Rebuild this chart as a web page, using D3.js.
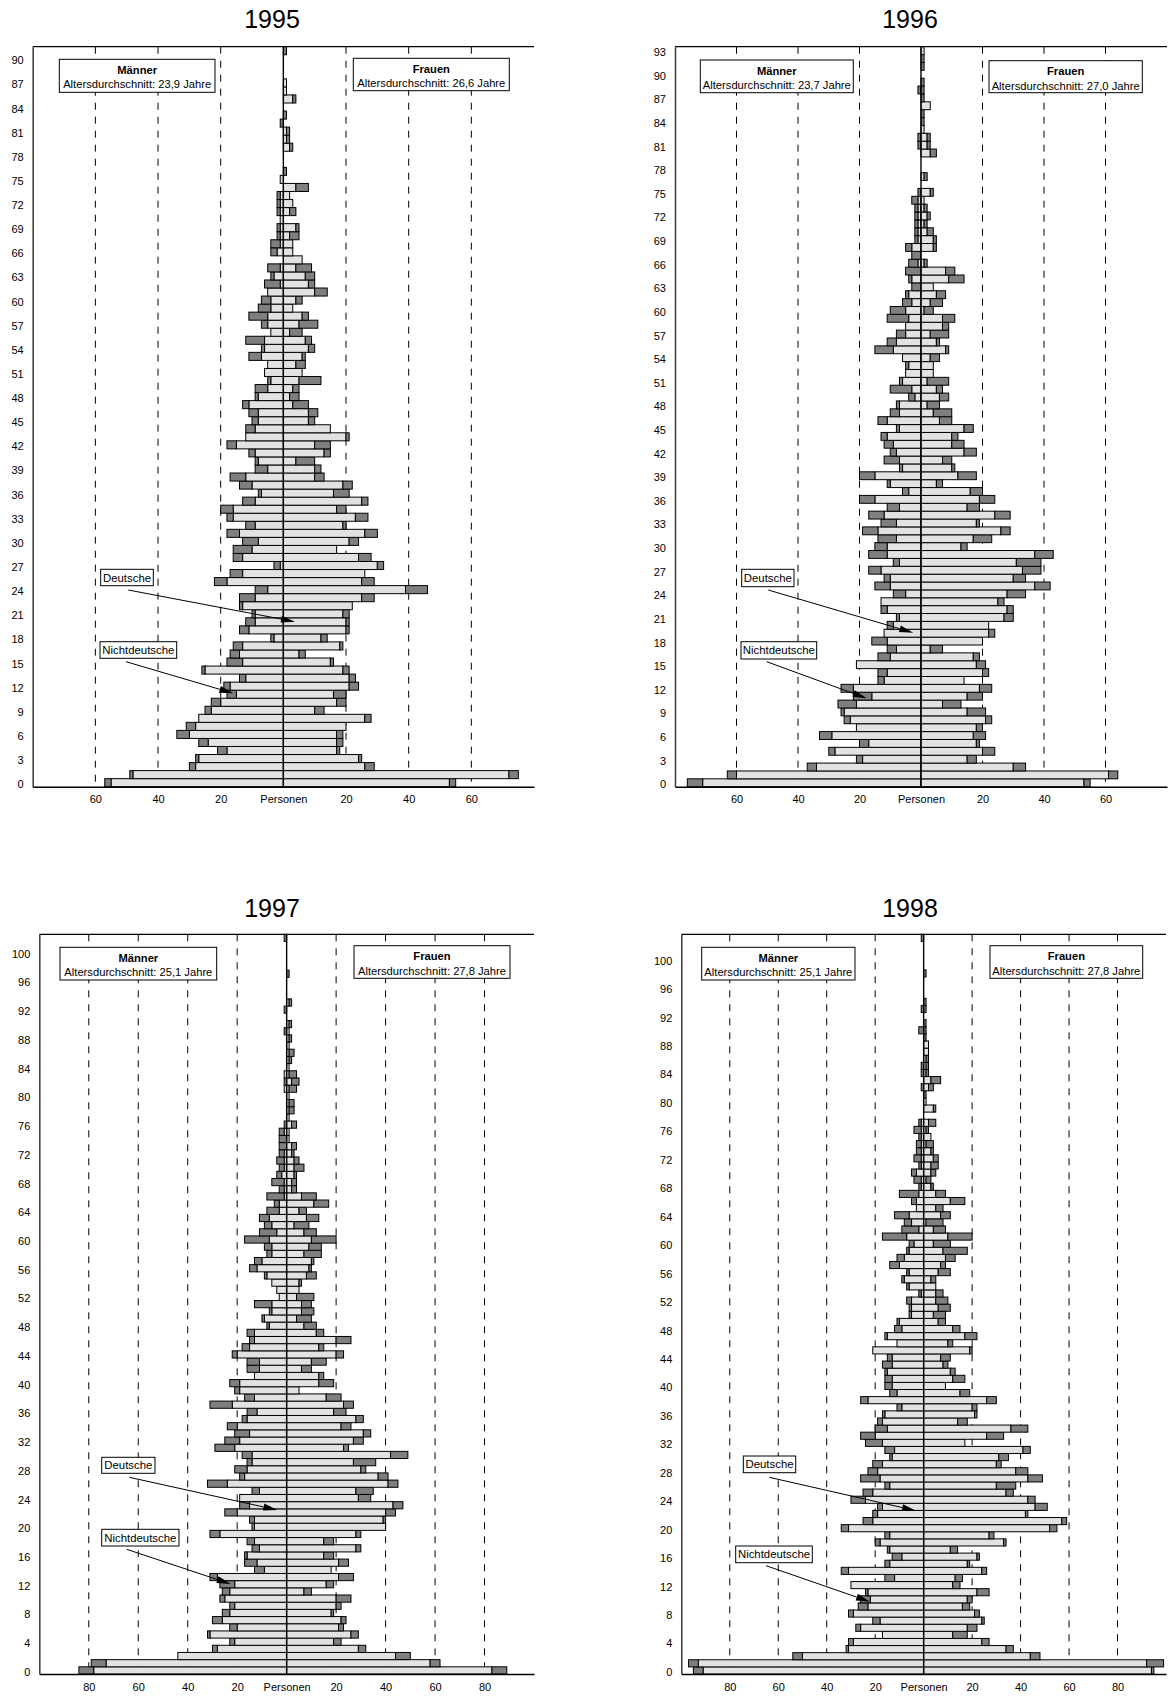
<!DOCTYPE html>
<html>
<head>
<meta charset="utf-8">
<script src="https://cdnjs.cloudflare.com/ajax/libs/d3/7.8.5/d3.min.js"></script>
<style>
  body { margin: 0; background: #fff; }
  svg { display: block; }
</style>
</head>
<body>
<script>
// ---- data: persons per age (index = age), D = Deutsche, N = Nichtdeutsche ----
var years = ["1995", "1996", "1997", "1998"];
var avgMale = ["23,9", "23,7", "25,1", "25,1"];
var avgFemale = ["26,6", "27,0", "27,8", "27,8"];
var axisMax = [80, 80, 100, 100];
var ageTickStep = [3, 3, 4, 4];

var m95D = [55,48,28,27,18,24,30,28,27,23, 20,15,17,12,25,13,14,13,3,11, 9,9,13,9,5,18,13,1,13,10, 8,14,9,16,16,9,7,10,12,5, 8,9,15,12,9,8,8,11,8,5, 4,6,5,7,6,6,4,5,5,4, 4,5,1,3,1,0,2,1,1,1, 1,1,1,1,0,1,0,0,0,0, 0,0,0,0,0,0,0,0,0,0, 0,0];
var m95N = [2,1,2,1,3,3,4,3,0,2, 3,3,2,2,1,5,3,3,1,3, 3,1,1,5,4,4,4,2,3,6, 5,4,3,2,4,4,1,4,5,4, 1,2,3,0,3,2,3,2,1,4, 1,0,0,4,1,6,0,2,6,4, 3,0,5,1,4,0,2,3,1,1, 0,1,1,1,0,0,0,0,0,0, 0,0,1,0,0,0,0,0,0,0, 0,0];
var f95D = [53,72,26,24,17,17,17,20,26,10, 17,16,21,21,19,15,5,18,12,20, 20,19,22,25,39,25,26,30,24,17, 21,26,19,23,17,25,16,19,10,10, 4,13,10,20,15,8,8,3,2,3, 5,6,4,6,8,7,2,5,6,3, 4,10,8,7,4,6,3,3,2,4, 0,2,3,2,4,0,0,0,0,2, 1,1,0,0,0,3,1,1,0,0, 0,0];
var f95N = [2,3,3,1,1,2,2,0,2,3, 3,4,3,2,2,1,2,1,2,1, 1,2,0,4,7,4,0,2,4,0, 3,4,1,4,3,2,5,3,3,2, 6,2,5,1,0,2,3,5,3,2, 7,0,3,1,2,2,4,6,2,0, 2,4,2,3,5,0,0,0,3,1, 0,2,0,0,4,0,1,0,0,1, 1,1,0,1,0,1,0,0,0,0, 0,1];

var m96D = [71,60,34,19,28,17,29,21,23,25, 21,16,22,12,11,21,10,8,11,12, 9,7,11,13,5,10,10,13,7,11, 11,8,14,8,12,7,15,4,10,15, 6,7,8,9,11,7,11,7,7,2, 3,6,5,4,6,9,8,5,5,4, 5,3,4,0,3,0,1,0,3,1, 1,1,1,1,1,0,0,0,0,0, 0,0,0,0,0,0,0,0,0,0, 0,0,0,0];
var m96N = [5,3,3,2,2,3,4,0,2,1, 6,6,4,2,3,0,4,3,5,0, 2,1,2,0,4,5,2,4,2,6, 4,6,5,5,5,4,5,2,1,5, 1,5,2,3,2,1,3,3,1,2, 7,1,0,1,0,6,3,3,0,7, 5,3,1,3,1,5,3,3,2,1, 1,1,1,1,2,1,0,0,0,0, 0,1,1,0,0,0,0,0,1,0, 0,0,0,0];
var f96D = [53,61,30,15,20,18,17,18,21,15, 7,15,19,14,20,18,17,3,20,22, 22,27,28,25,28,37,30,33,31,37, 13,17,26,18,24,15,19,16,5,12, 10,7,14,10,10,14,6,4,2,6, 5,2,4,4,3,8,5,3,7,7, 1,3,5,4,9,8,1,0,4,4, 2,1,2,1,1,3,0,1,0,0, 3,2,2,1,0,0,3,0,0,0, 0,0,0,1];
var f96N = [2,3,4,3,4,1,4,2,2,6, 6,5,4,0,2,3,2,4,0,2, 0,3,2,2,6,5,4,6,8,6, 2,6,3,1,5,4,5,4,2,6, 1,3,4,4,2,3,4,6,4,3, 2,7,0,0,3,1,1,6,2,4, 3,4,3,0,5,3,1,0,1,1, 2,1,1,1,0,1,0,1,0,0, 2,1,1,0,1,1,0,1,1,1, 0,1,1,0];

var m97D = [78,73,44,28,21,31,20,26,23,21, 25,23,21,28,9,12,16,11,13,27, 13,13,20,15,19,11,24,17,16,14, 14,21,19,15,20,16,12,22,13,19, 19,13,11,11,20,15,13,13,7,9, 6,6,3,4,6,8,12,10,6,6, 7,4,6,7,3,3,1,1,1,2, 1,1,1,0,0,1,0,0,0,0, 0,1,0,1,0,0,0,0,0,0, 0,0,0,0,0,0,0,0,0,0, 0,0,0];
var m97N = [6,6,0,2,2,1,3,4,3,2, 2,3,6,3,4,5,1,3,3,4, 1,2,5,4,0,3,8,2,5,2, 4,8,6,6,4,2,4,9,4,2, 4,0,5,5,2,3,2,3,1,1, 1,7,0,0,0,1,3,3,2,3, 10,7,3,4,5,2,7,2,5,2, 2,3,2,3,3,2,1,0,0,0, 0,0,1,0,0,0,0,0,0,1, 0,0,1,0,0,0,0,0,0,0, 0,0,1];
var f97D = [83,58,44,29,19,26,21,22,18,20, 20,7,16,21,18,21,15,28,15,28, 40,39,40,43,29,28,41,37,30,27, 42,23,27,31,22,28,19,23,16,5, 13,13,6,10,20,13,20,12,7,4, 6,6,4,5,5,8,9,10,7,9, 10,7,3,8,5,11,6,2,2,3, 3,3,2,2,1,1,2,1,1,1, 1,1,2,1,1,1,1,1,1,1, 1,0,0,1,0,0,0,0,0,0, 0,0,0];
var f97N = [6,4,6,3,3,3,2,2,1,2, 6,3,3,6,0,4,4,2,4,2, 0,1,4,4,5,7,4,4,2,9, 7,2,4,3,4,3,5,4,6,0, 6,2,4,6,3,2,6,3,5,6, 5,4,7,0,1,4,1,1,7,5, 10,5,6,5,3,6,6,2,2,1, 4,2,1,2,0,0,2,0,2,2, 0,3,3,3,0,1,2,0,1,0, 1,0,0,1,0,0,0,1,0,0, 0,0,0];

var m98D = [91,93,50,31,29,17,26,18,29,23, 22,23,30,12,31,14,9,14,18,14, 31,21,19,17,24,21,14,18,19,17, 13,12,17,20,15,17,16,9,23,11, 13,13,15,13,13,21,11,15,9,10, 5,5,5,1,6,8,6,10,8,6, 4,7,2,5,6,3,3,2,1,1, 3,1,1,1,1,1,1,1,0,0, 0,0,0,0,0,0,0,0,0,0, 0,0,0,0,0,0,0,0,0,0, 0,0,0,0];
var m98N = [4,4,4,1,2,0,2,3,2,4, 4,1,0,4,3,2,4,1,2,2, 3,4,2,2,6,4,2,8,4,4, 1,4,7,6,5,2,1,2,3,3, 3,3,1,4,2,0,0,1,3,1, 1,1,2,1,1,1,1,4,3,1, 2,10,7,3,6,0,2,8,1,3, 2,1,3,2,2,1,3,1,0,0, 0,0,1,0,1,1,0,0,0,0, 2,0,0,1,0,0,0,0,0,0, 0,0,0,1];
var f98D = [94,92,44,34,24,12,18,24,21,16, 18,22,12,13,24,18,22,11,33,27, 52,57,42,46,43,34,30,43,38,30, 31,41,17,26,36,14,21,20,26,15, 9,12,11,8,7,19,10,17,12,6, 4,6,5,5,5,3,6,7,9,8, 4,10,4,1,7,5,11,5,3,1, 3,3,4,3,1,3,1,2,0,4, 1,0,2,3,1,1,1,2,2,0, 0,0,0,0,0,0,0,0,0,0, 0,0,0,0];
var f98N = [1,7,4,3,3,6,4,1,2,3, 2,5,3,3,2,1,1,3,1,2, 3,2,1,5,3,3,8,6,5,2, 4,3,0,7,7,4,1,2,4,4, 0,5,2,2,4,1,2,5,3,3, 5,5,5,3,0,2,5,2,4,10, 7,10,5,7,4,3,6,4,1,2, 2,3,2,1,3,0,1,3,0,1, 0,1,2,4,1,1,1,0,0,1, 1,1,0,1,1,0,0,0,1,0, 0,0,0,0];

// ---- layout ----
var width = 1173;
var height = 1697;
var FONT = "'Liberation Sans', Arial, Helvetica, sans-serif";
var LIGHT = "#e2e2e2";
var DARK = "#7f7f7f";

var panels = [
  { mD: m95D, mN: m95N, fD: f95D, fN: f95N,
    left: 32.7, right: 534, top: 46.7, bottom: 786.7, titleX: 272, titleY: 28,
    boxM: [59.3, 59.3, 155.7, 33], boxF: [353.3, 58.3, 156, 32.4],
    notes: [
      { text: "Deutsche", box: [100.7, 569.3, 52.6, 16.4], from: [128.3, 590], to: [295, 621.7] },
      { text: "Nichtdeutsche", box: [100, 641.7, 76.7, 16.6], from: [126, 661.7], to: [233.3, 693.3] }
    ] },
  { mD: m96D, mN: m96N, fD: f96D, fN: f96N,
    left: 675, right: 1167, top: 46.7, bottom: 786.7, titleX: 910, titleY: 28,
    boxM: [700.3, 60, 153, 32.7], boxF: [989, 60.7, 153.3, 32],
    notes: [
      { text: "Deutsche", box: [741.7, 569.3, 52.3, 17.4], from: [768.3, 590], to: [913.3, 632.7] },
      { text: "Nichtdeutsche", box: [741, 641.7, 75.7, 17.3], from: [766.7, 661.7], to: [866.7, 698.3] }
    ] },
  { mD: m97D, mN: m97N, fD: f97D, fN: f97N,
    left: 39.3, right: 534, top: 934.3, bottom: 1674, titleX: 272, titleY: 916.5,
    boxM: [60, 947.3, 156.7, 32.7], boxF: [354, 945.7, 156, 32.6],
    notes: [
      { text: "Deutsche", box: [101.7, 1457.3, 53.3, 16], from: [129.3, 1477.3], to: [277.3, 1510] },
      { text: "Nichtdeutsche", box: [101.7, 1529.3, 77.3, 16.7], from: [126.7, 1549.3], to: [230.7, 1584] }
    ] },
  { mD: m98D, mN: m98N, fD: f98D, fN: f98N,
    left: 681.3, right: 1166, top: 934.3, bottom: 1674, titleX: 910, titleY: 916.5,
    boxM: [701.7, 947.3, 153.3, 32.7], boxF: [990, 945.7, 152.7, 32.6],
    notes: [
      { text: "Deutsche", box: [743.3, 1456, 52.4, 16.7], from: [769.3, 1477.3], to: [916, 1510.7] },
      { text: "Nichtdeutsche", box: [735.7, 1546, 76.6, 16.7], from: [766, 1565.7], to: [870, 1601.7] }
    ] }
];

var svg = d3.select("body").append("svg")
      .attr("width", width)
      .attr("height", height)
      .style("font-family", FONT);

function drawPanel(p, i) {
  var n = p.mD.length;
  var ages = d3.range(n);
  var maxX = axisMax[i];

  var x = d3.scaleLinear().domain([-maxX, maxX]).range([p.left, p.right]);
  var y = d3.scaleBand().domain(ages).range([p.bottom, p.top]).padding(0);

  var g = svg.append("g");

  // title
  g.append("text")
    .attr("x", p.titleX).attr("y", p.titleY)
    .attr("text-anchor", "middle")
    .attr("font-size", 25)
    .text(years[i]);

  // dashed gridlines
  var gridVals = d3.range(-maxX + 20, maxX, 20).filter(function (v) { return v !== 0; });
  g.selectAll("line.grid").data(gridVals).enter().append("line")
    .attr("class", "grid")
    .attr("x1", function (d) { return x(d); }).attr("x2", function (d) { return x(d); })
    .attr("y1", p.top).attr("y2", p.bottom)
    .attr("stroke", "#000").attr("stroke-width", 1)
    .attr("stroke-dasharray", "7,7");

  // bar segments: Deutsche from centre outwards, Nichtdeutsche stacked outside
  var segs = [];
  ages.forEach(function (a) {
    var md = p.mD[a], mn = p.mN[a], fd = p.fD[a], fn = p.fN[a];
    if (md > 0) segs.push({ age: a, v0: -md, v1: 0, fill: LIGHT });
    if (mn > 0) segs.push({ age: a, v0: -(md + mn), v1: -md, fill: DARK });
    if (fd > 0) segs.push({ age: a, v0: 0, v1: fd, fill: LIGHT });
    if (fn > 0) segs.push({ age: a, v0: fd, v1: fd + fn, fill: DARK });
  });

  g.selectAll("rect.bar").data(segs).enter().append("rect")
    .attr("class", "bar")
    .attr("x", function (d) { return x(d.v0); })
    .attr("width", function (d) { return x(d.v1) - x(d.v0); })
    .attr("y", function (d) { return y(d.age); })
    .attr("height", y.bandwidth())
    .attr("fill", function (d) { return d.fill; })
    .attr("stroke", "#000").attr("stroke-width", 1);

  // centre line
  g.append("line")
    .attr("x1", x(0)).attr("x2", x(0))
    .attr("y1", p.top).attr("y2", p.bottom)
    .attr("stroke", "#000").attr("stroke-width", 1.4);

  // top frame
  g.append("line")
    .attr("x1", p.left).attr("x2", p.right)
    .attr("y1", p.top).attr("y2", p.top)
    .attr("stroke", "#000").attr("stroke-width", 1.2);

  // age axis
  var yAxis = d3.axisLeft(y)
    .tickValues(ages.filter(function (a) { return a % ageTickStep[i] === 0; }))
    .tickSize(0).tickSizeOuter(0).tickPadding(9);
  var ya = g.append("g").attr("transform", "translate(" + p.left + ",0)").call(yAxis);
  ya.select(".domain").attr("stroke", "#444").attr("stroke-width", 1.6);
  ya.selectAll("text").attr("font-family", FONT).attr("font-size", 11).attr("fill", "#000").attr("dy", "0.5em");

  // person axis
  var xVals = gridVals.slice();
  xVals.push(0);
  var xAxis = d3.axisBottom(x)
    .tickValues(xVals)
    .tickFormat(function (v) { return v === 0 ? "Personen" : Math.abs(v); })
    .tickSize(0).tickSizeOuter(0).tickPadding(9);
  var xa = g.append("g").attr("transform", "translate(0," + p.bottom + ")").call(xAxis);
  xa.select(".domain").attr("stroke", "#000").attr("stroke-width", 1.6);
  xa.selectAll("text").attr("font-family", FONT).attr("font-size", 11).attr("fill", "#000");

  // average-age boxes
  [[p.boxM, "Männer", avgMale[i]], [p.boxF, "Frauen", avgFemale[i]]].forEach(function (b) {
    var r = b[0];
    g.append("rect").attr("x", r[0]).attr("y", r[1]).attr("width", r[2]).attr("height", r[3])
      .attr("fill", "#fff").attr("stroke", "#000").attr("stroke-width", 1);
    g.append("text").attr("x", r[0] + r[2] / 2).attr("y", r[1] + 14.5)
      .attr("text-anchor", "middle").attr("font-size", 11.2).attr("font-weight", "bold")
      .text(b[1]);
    g.append("text").attr("x", r[0] + r[2] / 2).attr("y", r[1] + 29)
      .attr("text-anchor", "middle").attr("font-size", 11.2)
      .text("Altersdurchschnitt: " + b[2] + " Jahre");
  });

  // callouts with arrows
  p.notes.forEach(function (nt) {
    var r = nt.box;
    g.append("rect").attr("x", r[0]).attr("y", r[1]).attr("width", r[2]).attr("height", r[3])
      .attr("fill", "#fff").attr("stroke", "#000").attr("stroke-width", 1);
    g.append("text").attr("x", r[0] + r[2] / 2).attr("y", r[1] + r[3] / 2 + 4)
      .attr("text-anchor", "middle").attr("font-size", 11.4)
      .text(nt.text);

    var x1 = nt.from[0], y1 = nt.from[1], x2 = nt.to[0], y2 = nt.to[1];
    var ang = Math.atan2(y2 - y1, x2 - x1);
    var len = 14, hw = 3.5;
    var bx = x2 - len * Math.cos(ang), by = y2 - len * Math.sin(ang);
    g.append("line").attr("x1", x1).attr("y1", y1).attr("x2", bx).attr("y2", by)
      .attr("stroke", "#000").attr("stroke-width", 1);
    var pts = [
      [x2, y2],
      [bx + hw * Math.sin(ang), by - hw * Math.cos(ang)],
      [bx - hw * Math.sin(ang), by + hw * Math.cos(ang)]
    ];
    g.append("polygon").attr("points", pts.map(function (q) { return q.join(","); }).join(" "))
      .attr("fill", "#000");
  });
}

panels.forEach(drawPanel);
</script>
</body>
</html>
